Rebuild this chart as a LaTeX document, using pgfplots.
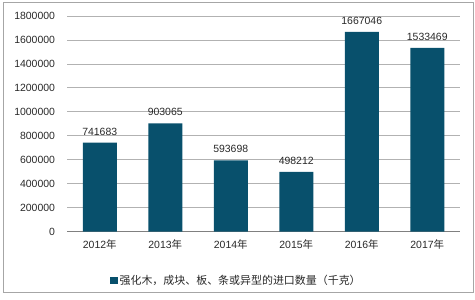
\documentclass[border=0pt]{standalone}
\usepackage{pgfplots}
\pgfplotsset{compat=1.18}
\usepackage{fontspec}
\setmainfont{Liberation Sans}
\newfontfamily\cjk{Noto Sans CJK SC}
\definecolor{barc}{RGB}{8,80,108}
\definecolor{txt}{RGB}{40,40,40}
\begin{document}
\begin{tikzpicture}
\useasboundingbox (0bp,0bp) rectangle (475bp,300bp);
\draw[gray!70, line width=0.8bp] (3.5bp,7.5bp) rectangle (473bp,298bp);
\begin{axis}[
  at={(67bp,68.5bp)}, anchor=south west,
  scale only axis, width=393bp, height=215.5bp,
  xmin=-0.5, xmax=5.5, ymin=0, ymax=1800000,
  ytick distance=200000,
  xtick=data,
  xticklabels={2012{\cjk 年},2013{\cjk 年},2014{\cjk 年},2015{\cjk 年},2016{\cjk 年},2017{\cjk 年}},
  scaled y ticks=false,
  /pgf/number format/.cd, fixed, 1000 sep={}, assume math mode=true,
  /pgfplots/.cd,
  axis x line*=bottom, axis y line*=left,
  y axis line style={draw=none},
  x axis line style={draw=gray, line width=0.9bp},
  major tick length=0,
  ymajorgrids, grid style={draw=gray!60, line width=0.7bp},
  tick label style={font=\fontsize{10.5}{12}\selectfont, text=txt},
  yticklabel style={xshift=-8.5bp},
  xticklabel style={yshift=-5bp},
  ybar, bar width=34bp,
  nodes near coords,
  nodes near coords style={font=\fontsize{10.5}{12}\selectfont, text=txt, yshift=4bp},
  legend style={at={(0.431,-0.228)}, anchor=center, draw=none, fill=none,
    font=\fontsize{11}{13}\selectfont, text=txt},
  legend image code/.code={\fill[barc] (0bp,-3.5bp) rectangle (7.5bp,4bp);},
]
\addplot[fill=barc, draw=none] coordinates {(0,741683) (1,903065) (2,593698) (3,498212) (4,1667046) (5,1533469)};
\addlegendentry{\cjk 强化木，成块、板、条或异型的进口数量（千克）}
\end{axis}
\end{tikzpicture}
\end{document}
